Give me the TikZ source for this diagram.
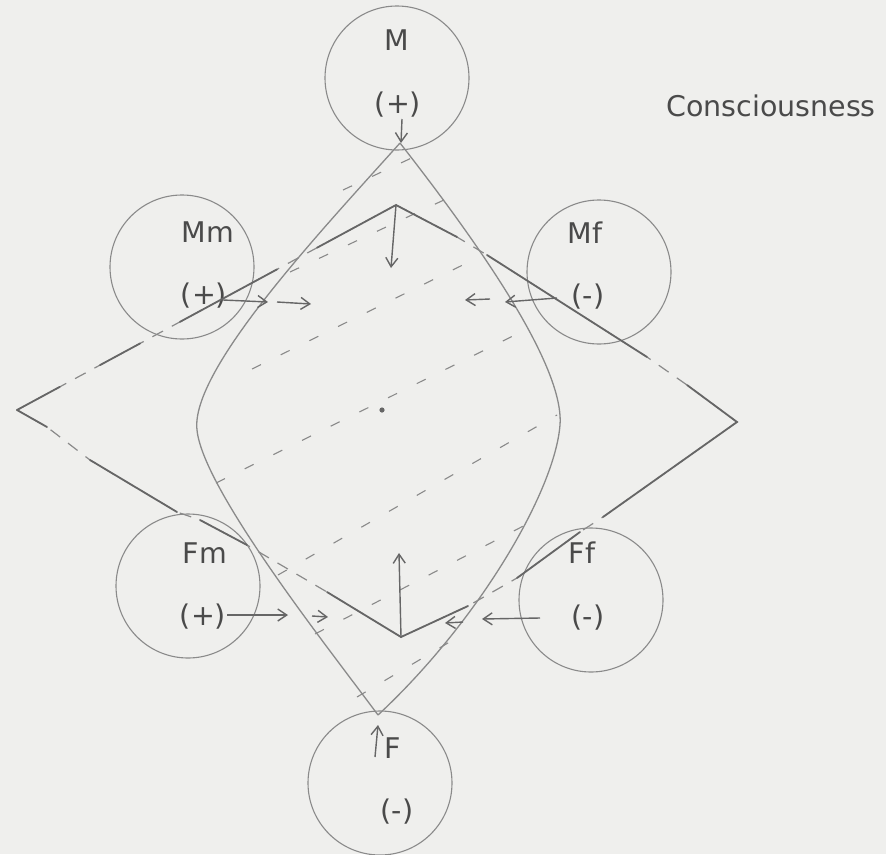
\documentclass[tikz,border=0pt]{standalone}
\usepackage{fontspec}
\setmainfont{DejaVu Sans}
\usetikzlibrary{arrows.meta,calc}
\definecolor{paper}{HTML}{EFEFED}
\definecolor{pencil}{HTML}{666666}
\definecolor{lightpencil}{HTML}{8A8A8A}
\definecolor{ink}{HTML}{4A4A4A}
\tikzset{
  circ/.style={circle, draw=lightpencil, line width=1.1pt, minimum size=144pt, inner sep=0pt},
  lbl/.style={text=ink, font=\fontsize{28.5}{30}\selectfont, inner sep=0pt},
  lens/.style={draw=lightpencil, line width=1.3pt},
  kitesolid/.style={draw=pencil, line width=1.8pt, line cap=round},
  kitedash/.style={draw=lightpencil, line width=1.2pt, dash pattern=on 12pt off 10pt},
  hatch/.style={draw=lightpencil, line width=1.1pt, dash pattern=on 10pt off 22pt},
  arr/.style={draw=pencil, line width=1.4pt, -{Straight Barb[length=9pt,width=12pt]}},
}
\begin{document}
\begin{tikzpicture}[x=1pt,y=-1pt]
\fill[paper] (0,0) rectangle (886,854);
\useasboundingbox (0,0) rectangle (886,854);

% circles
\node[circ] (M)  at (397,78)  {};
\node[circ] (Mm) at (182,267) {};
\node[circ] (Mf) at (599,272) {};
\node[circ] (Fm) at (188,586) {};
\node[circ] (Ff) at (591,600) {};
\node[circ] (F)  at (380,783) {};

% labels
\node[lbl] (tM)   at (397,40)  {M};
\node[lbl] (pM)   at (398,105) {(+)};
\node[lbl] (tMm)  at (208,232) {Mm};
\node[lbl] (pMm)  at (204,296) {(+)};
\node[lbl] (tMf)  at (585,233) {Mf};
\node[lbl] (pMf)  at (588,297) {(-)};
\node[lbl] (tFm)  at (205,553) {Fm};
\node[lbl] (pFm)  at (203,617) {(+)};
\node[lbl] (tFf)  at (582,553) {Ff};
\node[lbl] (pFf)  at (588,618) {(-)};
\node[lbl] (tF)   at (393,748) {F};
\node[lbl] (pF)   at (397,812) {(-)};
\node[lbl] (cons) at (771,106) {Consciousness};

% lens
\coordinate (LT) at (400,143);
\coordinate (LB) at (378,715);
\coordinate (LL) at (197,430);
\coordinate (LR) at (560,425);
\draw[lens] (LT) .. controls (322,230) and (190,370) .. (LL)
                 .. controls (203,490) and (330,650) .. (LB);
\draw[lens] (LT) .. controls (460,220) and (565,360) .. (LR)
                 .. controls (555,490) and (480,620) .. (LB);

% hatching
\coordinate (hA1) at (343,190); \coordinate (hA2) at (418,155);
\coordinate (hB1) at (290,272); \coordinate (hB2) at (446,199);
\coordinate (hC1) at (252,369); \coordinate (hC2) at (481,256);
\coordinate (hD1) at (216,483); \coordinate (hD2) at (523,331);
\coordinate (hE1) at (278,575); \coordinate (hE2) at (557,415);
\coordinate (hF1) at (315,634); \coordinate (hF2) at (533,521);
\coordinate (hG1) at (357,697); \coordinate (hG2) at (458,637);
\foreach \h in {A,B,C,D,E,F,G}{\draw[hatch] (h\h1) -- (h\h2);}
\fill[pencil] (382,410) circle (2.6pt);

% kite vertices
\coordinate (KL) at (17,410);
\coordinate (KT) at (396,205);
\coordinate (KR) at (737,422);
\coordinate (KB) at (401,637);
\coordinate (ur1) at (457,237); \coordinate (ur2) at (487,255);
\coordinate (ur3) at (647,357); \coordinate (ur4) at (687,385);
\coordinate (lr1) at (603,517); \coordinate (lr2) at (580,532);
\coordinate (lr3) at (517,578); \coordinate (lr4) at (468,606);
\coordinate (ll1) at (327,592); \coordinate (ll2) at (247,545);
\coordinate (ll3) at (200,520); \coordinate (ll4) at (177,512);
\coordinate (ll5) at (90,460);  \coordinate (ll6) at (47,427);

% kite dashed underlay
\draw[kitedash] (KL) -- (KT);
\draw[kitedash] (KT) -- (ur1) -- (ur2) -- (ur3) -- (ur4) -- (KR);
\draw[kitedash] (KR) -- (lr1) -- (lr2) -- (lr3) -- (lr4) -- (KB);
\draw[kitedash] (KB) -- (ll1) -- (ll2) -- (ll3) -- (ll4) -- (ll5) -- (ll6) -- (KL);

% kite solid parts
\draw[kitesolid] (KL) -- ($(KL)!0.113!(KT)$);
\draw[kitesolid] ($(KL)!0.219!(KT)$) -- ($(KL)!0.325!(KT)$);
\draw[kitesolid] ($(KL)!0.43!(KT)$) -- ($(KL)!0.686!(KT)$);
\draw[kitesolid] ($(KL)!0.792!(KT)$) -- (KT) -- (ur1);
\draw[kitesolid] (ur2) -- (ur3);
\draw[kitesolid] (ur4) -- (KR) -- (lr1);
\draw[kitesolid] (lr2) -- (lr3);
\draw[kitesolid] (lr4) -- (KB) -- (ll1);
\draw[kitesolid] (ll2) -- (ll3);
\draw[kitesolid] (ll4) -- (ll5);
\draw[kitesolid] (ll6) -- (KL);

% arrows
\coordinate (aM1) at (402,119);  \coordinate (aM2) at (401,143);
\coordinate (aT2) at (391,268);
\coordinate (aMm1) at (223,300); \coordinate (aMm2) at (268,302);
\coordinate (aMm3) at (277,302); \coordinate (aMm4) at (311,304);
\coordinate (aMf1) at (557,298); \coordinate (aMf2) at (505,302);
\coordinate (aMf3) at (490,299); \coordinate (aMf4) at (465,300);
\coordinate (aFm1) at (227,615); \coordinate (aFm2) at (288,615);
\coordinate (aFm3) at (312,616); \coordinate (aFm4) at (328,617);
\coordinate (aFf1) at (540,618); \coordinate (aFf2) at (482,619);
\coordinate (aFf3) at (463,622); \coordinate (aFf4) at (445,623);
\coordinate (aB2) at (399,553);
\coordinate (aF1) at (375,757);  \coordinate (aF2) at (378,725);

\draw[arr] (aM1) -- (aM2);
\draw[arr] (KT) -- (aT2);
\draw[arr] (aMm1) -- (aMm2);
\draw[arr] (aMm3) -- (aMm4);
\draw[arr] (aMf1) -- (aMf2);
\draw[arr] (aMf3) -- (aMf4);
\draw[arr] (aFm1) -- (aFm2);
\draw[arr] (aFm3) -- (aFm4);
\draw[arr] (aFf1) -- (aFf2);
\draw[arr] (aFf3) -- (aFf4);
\draw[arr] (KB) -- (aB2);
\draw[arr] (aF1) -- (aF2);
\end{tikzpicture}
\end{document}
